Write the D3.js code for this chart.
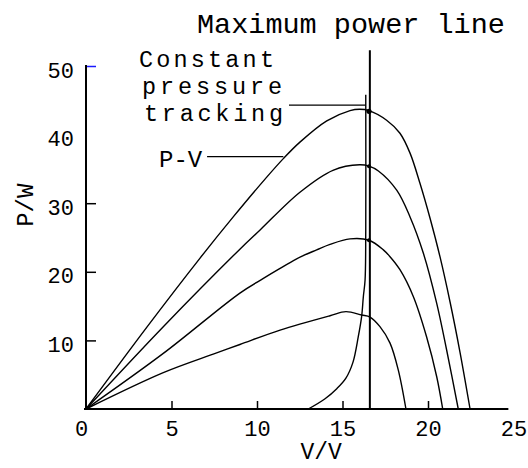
<!DOCTYPE html>
<html>
<head>
<meta charset="utf-8">
<script src="https://cdn.jsdelivr.net/npm/d3@7"></script>
<style>
  html, body { margin: 0; padding: 0; background: #fff; }
  svg { display: block; }
  text { font-family: "Liberation Mono", "DejaVu Sans Mono", monospace; fill: #000; }
</style>
</head>
<body>
<svg id="chart" width="528" height="468"></svg>
<script>
// ---- data ----
const xTicks = [0, 5, 10, 15, 20, 25];
const yTicks = [10, 20, 30, 40, 50];
const xLabel = "V/V";
const yLabel = "P/W";
const titleText = "Maximum power line";
const trackingLabel = ["Constant", "pressure", "tracking"];
const pvLabel = "P-V";

// P-V curves at four irradiance levels (V in volts, P in watts)
const curve1V = [0, 3.55, 6.67, 8.61, 10.57, 11.54, 12.51, 14.08, 15.44, 16.0, 16.55, 17.58, 18.36, 18.95, 19.53, 20.12, 20.70, 21.29, 21.87, 22.46];
const curve1P = [0, 11.9, 22.0, 28.0, 33.8, 36.5, 38.9, 42.0, 43.5, 43.7, 43.5, 42.1, 40.2, 37.3, 32.9, 27.8, 22.2, 15.6, 8.3, 0];
const curve2V = [0, 4.52, 9.0, 10.18, 12.51, 14.44, 16.0, 16.55, 17.1, 18.17, 18.95, 19.73, 20.51, 21.09, 21.77];
const curve2P = [0, 12.0, 23.3, 26.1, 31.6, 34.8, 35.6, 35.4, 34.7, 31.9, 28.0, 22.7, 15.4, 8.6, 0];
const curve3V = [0, 4.52, 9.0, 10.35, 11.15, 12.32, 13.49, 14.27, 15.44, 16.55, 17.39, 17.78, 18.36, 19.14, 19.92, 20.51, 20.86];
const curve3P = [0, 8.1, 16.9, 19.0, 20.2, 21.9, 23.2, 24.0, 24.8, 24.6, 23.2, 22.2, 20.3, 16.4, 10.5, 4.7, 0];
const curve4V = [0, 4.52, 7.44, 9.0, 11.35, 14.27, 15.2, 16.12, 16.61, 17.19, 17.78, 18.26, 18.71];
const curve4P = [0, 5.3, 8.0, 9.4, 11.5, 13.6, 14.2, 13.7, 13.4, 12.0, 9.6, 5.7, 0];

// constant-voltage tracking curve
const trackV = [13.0, 13.98, 14.68, 15.2, 15.61, 15.92, 16.12, 16.22, 16.32, 16.36, 16.36];
const trackP = [0, 1.5, 3.0, 4.5, 6.8, 10.5, 13.5, 16.4, 18.8, 26.1, 45.8];

// maximum power line and maximum power points
const mppV = 16.6;
const mppLineTop = 52.3;
const mppPointsV = [16.55, 16.55, 16.55];
const mppPointsP = [43.4, 35.4, 24.6];

// annotation pointers
const trackPointerV = [11.87, 16.36];
const trackPointerP = 44.3;
const pvPointerV = [7.08, 11.54];
const pvPointerP = 36.8;

// ---- drawing ----
const svg = d3.select("#chart");
const x = d3.scaleLinear().domain([0, 25]).range([86, 513.5]);
const y = d3.scaleLinear().domain([0, 50]).range([409, 66]);

// axes
const xAxis = d3.axisBottom(x).tickValues(xTicks).tickSize(-8).tickSizeOuter(0).tickPadding(11).tickFormat(d3.format("d"));
const gx = svg.append("g").attr("transform", `translate(0,${y(0)})`).call(xAxis);
gx.select(".domain").remove();
gx.selectAll(".tick line").attr("stroke", "#000").attr("stroke-width", 1.5)
  .attr("display", d => (d === 0 || d === 25) ? "none" : null);
gx.selectAll(".tick text").attr("font-size", 22).attr("fill", "#000")
  .attr("font-family", "Liberation Mono")
  .attr("dx", d => d === 0 ? "-5" : "0");

const yAxis = d3.axisLeft(y).tickValues(yTicks).tickSize(-10).tickSizeOuter(0).tickPadding(12).tickFormat(d3.format("d"));
const gy = svg.append("g").attr("transform", `translate(${x(0)},0)`).call(yAxis);
gy.select(".domain").remove();
gy.selectAll(".tick line").attr("stroke", d => d === 50 ? "#1a1aff" : "#000").attr("stroke-width", 1.5)
  .attr("display", d => d === 40 ? "none" : null);
gy.selectAll(".tick text").attr("font-size", 22).attr("fill", "#000")
  .attr("font-family", "Liberation Mono").attr("dy", "0.5em");

// axis lines
svg.append("line").attr("x1", x(0)).attr("x2", x(0)).attr("y1", y(0) + 1).attr("y2", y(50) - 1)
  .attr("stroke", "#000").attr("stroke-width", 2);
svg.append("line").attr("x1", x(0) - 2).attr("x2", x(24.7)).attr("y1", y(0)).attr("y2", y(0))
  .attr("stroke", "#000").attr("stroke-width", 2);

// axis labels
svg.append("text").attr("x", x(13.75)).attr("y", 459)
  .attr("text-anchor", "middle").attr("font-size", 23).text(xLabel);
svg.append("text").attr("transform", `translate(33,${(y(25) + y(35)) / 2 + 2}) rotate(-90)`)
  .attr("text-anchor", "middle").attr("font-size", 24).text(yLabel);

// curves
const line = d3.line().x(d => x(d[0])).y(d => y(d[1])).curve(d3.curveCatmullRom.alpha(0.5));
const curves = [[curve1V, curve1P], [curve2V, curve2P], [curve3V, curve3P], [curve4V, curve4P]];
curves.forEach(([vs, ps]) => {
  svg.append("path").datum(vs.map((v, i) => [v, ps[i]]))
    .attr("d", line).attr("fill", "none").attr("stroke", "#000").attr("stroke-width", 1.4);
});

// tracking curve
svg.append("path").datum(trackV.map((v, i) => [v, trackP[i]]))
  .attr("d", line).attr("fill", "none").attr("stroke", "#000").attr("stroke-width", 1.4);

// maximum power line
svg.append("line").attr("x1", x(mppV)).attr("x2", x(mppV)).attr("y1", y(0)).attr("y2", y(mppLineTop))
  .attr("stroke", "#000").attr("stroke-width", 2);

// max power points
svg.selectAll("circle.mpp").data(mppPointsV.map((v, i) => [v, mppPointsP[i]])).join("circle")
  .attr("class", "mpp").attr("cx", d => x(d[0])).attr("cy", d => y(d[1]))
  .attr("r", (d, i) => i === 0 ? 2.6 : 2).attr("fill", "#000");

// pointer lines
svg.append("line").attr("x1", x(trackPointerV[0])).attr("x2", x(trackPointerV[1]))
  .attr("y1", y(trackPointerP)).attr("y2", y(trackPointerP)).attr("stroke", "#000").attr("stroke-width", 1.3);
svg.append("line").attr("x1", x(pvPointerV[0])).attr("x2", x(pvPointerV[1]))
  .attr("y1", y(pvPointerP)).attr("y2", y(pvPointerP)).attr("stroke", "#000").attr("stroke-width", 1.3);

// texts
svg.append("text").attr("x", 197).attr("y", 33).attr("font-size", 28.5).text(titleText);
const trackX = [139, 142, 144];
const trackY = [67, 94, 121];
const trackLen = [135, 140, 139];
trackingLabel.forEach((t, i) => {
  svg.append("text").attr("x", trackX[i]).attr("y", trackY[i]).attr("font-size", 23.5)
    .attr("textLength", trackLen[i]).attr("lengthAdjust", "spacing").text(t);
});
svg.append("text").attr("x", 159).attr("y", 167).attr("font-size", 24).text(pvLabel);
</script>
</body>
</html>
